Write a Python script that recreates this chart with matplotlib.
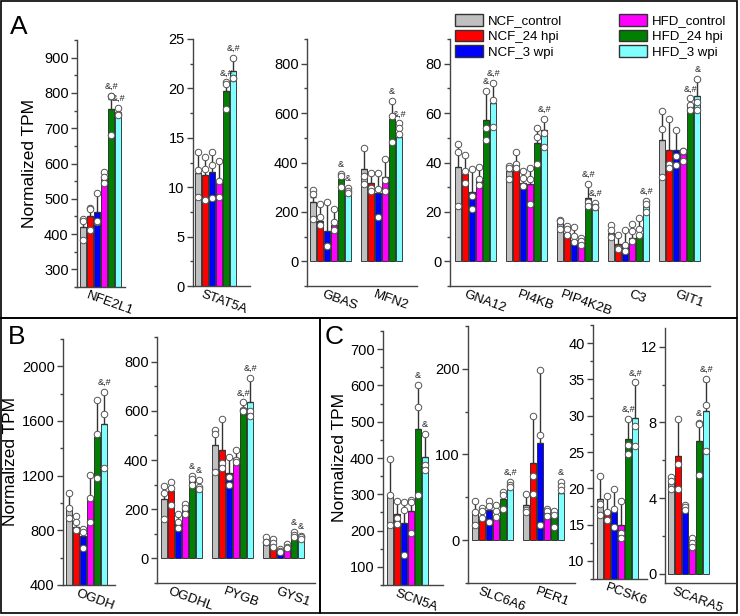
import numpy as np
import matplotlib
matplotlib.use("Agg")
import matplotlib.pyplot as plt
from matplotlib.patches import Patch, Rectangle
from matplotlib.ticker import MultipleLocator
import matplotlib.transforms as mtransforms

plt.rcParams['font.family'] = ['Liberation Sans', 'DejaVu Sans']

groups = ["NCF_control", "NCF_24 hpi", "NCF_3 wpi", "HFD_control", "HFD_24 hpi", "HFD_3 wpi"]
colors = ["#C0C0C0", "#FF0000", "#0000FF", "#FF00FF", "#007F00", "#80FFFF"]

# ---- panel A ----
NFE2L1_mean = [420, 452, 462, 558, 755, 745]
NFE2L1_err = [22, 22, 52, 18, 28, 12]
NFE2L1_pts = [[442, 382, 436], [475, 411, 470], [515, 433, 438], [575, 563, 545], [792, 682, 790], [758, 740, 737]]
NFE2L1_sig = ["", "", "", "", "&,#", "&,#"]

STAT5A_mean = [11.45, 11.2, 11.55, 10.4, 19.7, 21.8]
STAT5A_err = [2.1, 1.9, 2.0, 2.3, 0.9, 1.3]
STAT5A_pts = [[13.6, 11.7, 9.0], [13.1, 11.8, 8.7], [13.6, 12.2, 8.9], [12.7, 10.6, 9.0], [20.6, 20.4, 17.9], [23.1, 21.1, 21.1]]
STAT5A_sig = ["", "", "", "", "&,#", "&,#"]

GBAS_mean = [242, 165, 122, 148, 335, 290]
GBAS_err = [20, 68, 120, 66, 20, 6]
GBAS_pts = [[288, 272, 172], [232, 180, 145], [242, 62, 62], [213, 160, 128], [355, 345, 302], [295, 285, 278]]
GBAS_sig = ["", "", "", "", "&", "&"]

MFN2_mean = [372, 315, 278, 342, 575, 505]
MFN2_err = [88, 42, 80, 74, 72, 52]
MFN2_pts = [[460, 345, 312], [358, 296, 286], [358, 292, 178], [416, 328, 286], [648, 590, 484], [558, 538, 516]]
MFN2_sig = ["", "", "", "", "&", "&,#"]

GNA12_mean = [38, 35.5, 28, 33.5, 57.2, 64]
GNA12_err = [9.3, 7.5, 9.2, 4.6, 11.8, 8.2]
GNA12_pts = [[47.3, 44.4, 22.2], [43.2, 36.5, 31.5], [37.2, 26.3, 21.0], [38.2, 33.5, 30.8], [69, 54, 49], [72.3, 65.2, 54.5]]
GNA12_sig = ["", "", "", "", "&", "&,#"]

PI4KB_mean = [36.7, 39.8, 31.8, 31.3, 47.8, 53]
PI4KB_err = [2.2, 4.5, 5, 7, 6.5, 4.8]
PI4KB_pts = [[38.7, 37.6, 33.3], [44.1, 39.3, 37.9], [36.6, 33.6, 30.5], [37.9, 33.5, 23.3], [54.1, 50.4, 39.4], [57.8, 52, 46.4]]
PI4KB_sig = ["", "", "", "", "", "&,#"]

PIP4K2B_mean = [15.5, 11.3, 8.5, 7.4, 25.8, 21.5]
PIP4K2B_err = [1.3, 3.0, 5.2, 2.4, 5.8, 1.8]
PIP4K2B_pts = [[16.8, 16.5, 13.0], [14.4, 13.0, 10.8], [13.7, 10.1, 7.7], [9.5, 8.2, 6.7], [31.4, 24.2, 22.3], [23.6, 22.0, 21.8]]
PIP4K2B_sig = ["", "", "", "", "&,#", "&,#"]

C3_mean = [11.4, 7.0, 7.0, 9.6, 10.2, 22.2]
C3_err = [3.3, 3.7, 5.6, 5.5, 7.2, 2.2]
C3_pts = [[14.8, 12.8, 9.8], [10.8, 5.5, 4.8], [12.6, 6.8, 4.3], [15.2, 12.1, 8.3], [17.4, 13.0, 10.8], [24.4, 23.2, 19.8]]
C3_sig = ["", "", "", "", "", "&,#"]

GIT1_mean = [49.3, 45, 45, 43.5, 63.5, 66.8]
GIT1_err = [11.5, 12.8, 8.2, 1.4, 2.5, 7.2]
GIT1_pts = [[60.8, 53.5, 34.3], [57.8, 39.3, 37.6], [53.1, 42.5, 39], [44.8, 44.5, 40.7], [66, 63.2, 61.4], [74, 64.5, 61.4]]
GIT1_sig = ["", "", "", "", "&,#", "&"]

# ---- panel B ----
OGDH_mean = [972, 826, 762, 1035, 1480, 1575]
OGDH_err = [100, 80, 50, 175, 270, 240]
OGDH_pts = [[1070, 965, 890], [905, 862, 805], [808, 790, 670], [1205, 1040, 858], [1755, 1505, 1180], [1815, 1652, 1255]]
OGDH_sig = ["", "", "", "", "", "&,#"]

OGDHL_mean = [240, 272, 150, 200, 318, 290]
OGDHL_err = [58, 40, 32, 22, 17, 30]
OGDHL_pts = [[296, 266, 160], [312, 285, 218], [182, 150, 122], [222, 205, 182], [335, 322, 300], [318, 290, 282]]
OGDHL_sig = ["", "", "", "", "&", "&"]

PYGB_mean = [460, 440, 348, 410, 610, 637]
PYGB_err = [60, 128, 64, 30, 25, 98]
PYGB_pts = [[520, 505, 350], [568, 388, 368], [412, 330, 300], [440, 400, 392], [635, 602, 598], [735, 598, 578]]
PYGB_sig = ["", "", "", "", "&,#", "&,#"]

GYS1_mean = [72, 40, 30, 42, 85, 75]
GYS1_err = [16, 40, 10, 15, 22, 18]
GYS1_pts = [[88, 68, 65], [80, 62, 45], [38, 32, 24], [57, 46, 42], [106, 95, 86], [92, 85, 78]]
GYS1_sig = ["", "", "", "", "&", "&"]

# ---- panel C ----
SCN5A_mean = [297, 245, 220, 253, 480, 403]
SCN5A_err = [100, 38, 60, 32, 120, 63]
SCN5A_pts = [[398, 297, 214], [282, 235, 219], [280, 256, 134], [285, 279, 193], [602, 540, 298], [466, 380, 368]]
SCN5A_sig = ["", "", "", "", "&", "&"]

SLC6A6_mean = [31.5, 27.5, 35.5, 27.5, 47.5, 61]
SLC6A6_err = [14, 10, 10, 12, 8.5, 7]
SLC6A6_pts = [[45.7, 33, 17.7], [37.8, 33.5, 26], [45.7, 39.4, 20.9], [40.6, 34.6, 26.8], [56.3, 52.4, 36.6], [68, 64, 62]]
SLC6A6_sig = ["", "", "", "", "", "&,#"]

PER1_mean = [40.6, 90, 113, 34.6, 27, 55]
PER1_err = [13, 55, 86, 1.5, 7, 13]
PER1_pts = [[53.5, 35.4, 32.7], [145, 74.8, 54.3], [199, 122.4, 18.1], [35.8, 33.5, 28.7], [33.5, 29.9, 15.7], [68, 63, 59]]
PER1_sig = ["", "", "", "", "", "&"]

PCSK6_mean = [18.5, 16.9, 16.9, 14.9, 26.8, 29.7]
PCSK6_err = [3.2, 2.1, 3.0, 3.4, 2.8, 4.9]
PCSK6_pts = [[21.7, 17.8, 16.3], [19.0, 16.7, 15.6], [19.9, 17.2, 14.6], [18.3, 13.9, 13.2], [29.6, 26.0, 24.7], [34.6, 28.6, 25.8]]
PCSK6_sig = ["", "", "", "", "&,#", "&,#"]

SCARA5_mean = [4.85, 6.2, 3.3, 1.3, 7.0, 8.6]
SCARA5_err = [0.3, 2.0, 0.3, 0.6, 1.0, 1.6]
SCARA5_pts = [[5.1, 4.5, 4.9], [8.2, 5.8, 4.5], [3.65, 3.5, 3.35], [1.9, 1.6, 1.4], [7.95, 7.9, 5.2], [10.3, 8.9, 6.5]]
SCARA5_sig = ["", "", "", "", "&", "&,#"]

W, H = 740, 616
PX_UNIT = 7.0     # pixels per bar slot
STEP = 7.3        # group spacing in bar slots
fig = plt.figure(figsize=(W / 100, H / 100), dpi=100)


def add_ax(x0, y0, x1, y1):
    return fig.add_axes([x0 / W, 1 - y1 / H, (x1 - x0) / W, (y1 - y0) / H])


def draw(box, genes, pad_px, ylim, major, minor, ylabel=None, labelpad=4):
    ax = add_ax(*box)
    x = np.arange(6)
    centers = []
    for g, (name, mean, err, pts, sig) in enumerate(genes):
        xs = x + g * STEP
        centers.append(xs.mean())
        ax.bar(xs, mean, width=0.85, color=colors, edgecolor="#222222",
               linewidth=0.6, zorder=2)
        ax.errorbar(xs, mean, yerr=[np.zeros(6), err], fmt="none",
                    ecolor="#333333", elinewidth=1.0, capsize=2.2,
                    capthick=1.0, zorder=3)
        for i in range(6):
            ax.scatter(np.full(len(pts[i]), xs[i]), pts[i], s=22,
                       facecolor="white", edgecolor="#555555",
                       linewidth=0.7, zorder=4, clip_on=False)
            if sig[i]:
                top = max(mean[i] + err[i], max(pts[i]))
                ax.annotate(sig[i], (xs[i], top), xytext=(0, 3.5),
                            textcoords="offset points", ha="center",
                            va="bottom", fontsize=6.5, color="#222222")
    left = -0.425 - pad_px / PX_UNIT
    width_px = (box[2] - box[0])
    ax.set_xlim(left, left + width_px / PX_UNIT)
    ax.set_ylim(*ylim)
    ax.yaxis.set_major_locator(MultipleLocator(major))
    ax.yaxis.set_minor_locator(MultipleLocator(minor))
    for s in ["top", "right"]:
        ax.spines[s].set_visible(False)
    for s in ["left", "bottom"]:
        ax.spines[s].set_color("#444444")
        ax.spines[s].set_linewidth(1.0)
    ax.tick_params(axis="y", which="major", length=4, width=1, color="#444444",
                   labelsize=10.5, pad=2)
    ax.tick_params(axis="y", which="minor", length=2, width=1, color="#444444")
    ax.set_xticks(centers)
    ax.set_xticklabels([gn[0] for gn in genes], rotation=-20, ha="center",
                       va="top", fontsize=9.5)
    ax.tick_params(axis="x", length=0, pad=2)
    off = mtransforms.ScaledTranslation(0.09, 0, fig.dpi_scale_trans)
    for lab in ax.get_xticklabels():
        lab.set_transform(lab.get_transform() + off)
    if ylabel:
        ax.set_ylabel(ylabel, fontsize=12.5, labelpad=labelpad)
    return ax


def gene(name):
    g = globals()
    return (name, g[name + "_mean"], g[name + "_err"], g[name + "_pts"], g[name + "_sig"])


# panel A
draw((77, 40, 125, 287), [gene("NFE2L1")], 3, (250, 950), 100, 50,
     ylabel="Normalized TPM", labelpad=5)
draw((193, 39, 250, 286), [gene("STAT5A")], 2, (0, 25), 5, 2.5)
draw((307, 39, 417, 286), [gene("GBAS"), gene("MFN2")], 3, (-100, 900), 200, 100)
ax4 = draw((450, 39, 710, 286), [gene("GNA12"), gene("PI4KB"), gene("PIP4K2B"),
                                 gene("C3"), gene("GIT1")], 5, (-10, 90), 20, 10)

# panel B
draw((63, 339, 115, 585), [gene("OGDH")], 3, (400, 2200), 400, 200,
     ylabel="Normalized TPM", labelpad=3)
draw((157, 337, 315, 583), [gene("OGDHL"), gene("PYGB"), gene("GYS1")], 4,
     (-100, 900), 200, 100)

# panel C
draw((383, 331, 443, 585), [gene("SCN5A")], 4, (50, 750), 100, 50,
     ylabel="Normalized TPM", labelpad=2)
draw((468, 326, 575, 583), [gene("SLC6A6"), gene("PER1")], 4, (-50, 250), 100, 50)
draw((593, 325, 647, 579), [gene("PCSK6")], 4, (7.5, 42.5), 5, 2.5)
draw((665, 328, 735, 583), [gene("SCARA5")], 3, (-0.5, 13), 4, 2)

handles = [Patch(facecolor=c, edgecolor="#333333", linewidth=1.0, label=l)
           for c, l in zip(colors, groups)]
ax4.legend(handles=handles, ncol=2, loc="upper left",
           bbox_to_anchor=(455 / W, 1 - 14 / H), bbox_transform=fig.transFigure,
           frameon=False, fontsize=9.5, handlelength=2.12, handleheight=1.0,
           handletextpad=0.38, columnspacing=4.3, labelspacing=0.17,
           borderpad=0, borderaxespad=0)

# panel frames
for (x0, y0, x1, y1) in [(1, 1, 737, 318), (1, 318, 320, 613), (320, 318, 737, 613)]:
    fig.add_artist(Rectangle((x0 / W, 1 - y1 / H), (x1 - x0) / W, (y1 - y0) / H,
                             transform=fig.transFigure, fill=False,
                             edgecolor="black", linewidth=1.2))

fig.text(10 / W, 1 - 34 / H, "A", fontsize=19)
fig.text(8 / W, 1 - 344 / H, "B", fontsize=19)
fig.text(325 / W, 1 - 344 / H, "C", fontsize=19)

fig.savefig("out.png", dpi=100)
